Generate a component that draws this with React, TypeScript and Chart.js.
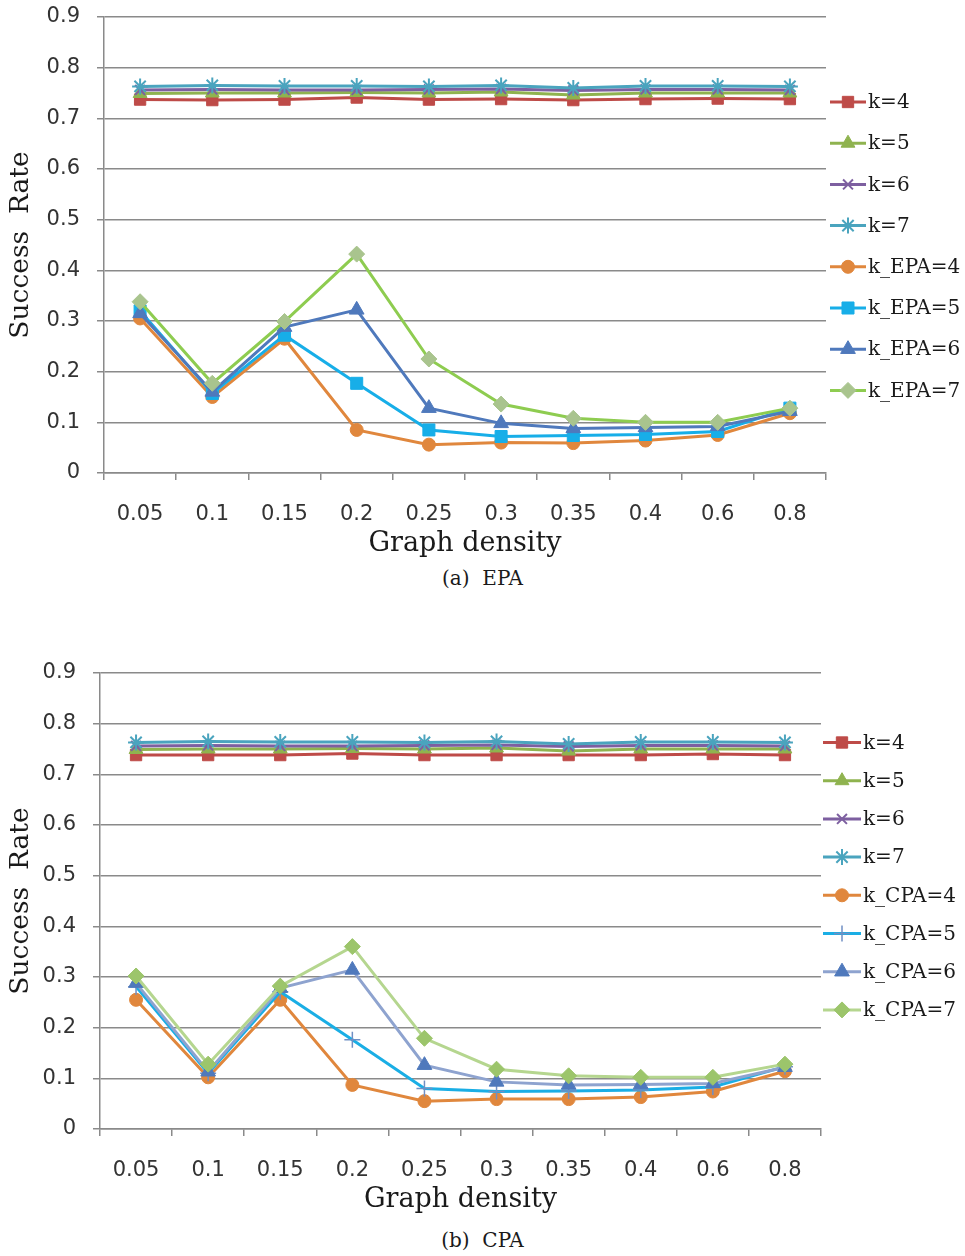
import React, { useEffect, useRef } from 'react';
import { Chart, registerables } from 'chart.js';
import { drawPoint } from 'chart.js/helpers';

Chart.register(...registerables);

// ---------------- data ----------------
const categories = ['0.05', '0.1', '0.15', '0.2', '0.25', '0.3', '0.35', '0.4', '0.6', '0.8'];
const yTickValues = [0, 0.1, 0.2, 0.3, 0.4, 0.5, 0.6, 0.7, 0.8, 0.9];

// (a) EPA
const epaK4 = [0.737, 0.736, 0.737, 0.741, 0.737, 0.738, 0.736, 0.738, 0.739, 0.738];
const epaK5 = [0.749, 0.750, 0.750, 0.751, 0.750, 0.752, 0.746, 0.750, 0.750, 0.750];
const epaK6 = [0.756, 0.757, 0.756, 0.756, 0.757, 0.758, 0.755, 0.757, 0.757, 0.756];
const epaK7 = [0.763, 0.765, 0.764, 0.764, 0.763, 0.765, 0.760, 0.764, 0.764, 0.763];
const kEpa4 = [0.305, 0.150, 0.265, 0.085, 0.056, 0.060, 0.059, 0.064, 0.075, 0.118];
const kEpa5 = [0.320, 0.157, 0.272, 0.177, 0.085, 0.072, 0.074, 0.076, 0.082, 0.128];
const kEpa6 = [0.315, 0.160, 0.288, 0.322, 0.128, 0.098, 0.088, 0.090, 0.092, 0.122];
const kEpa7 = [0.338, 0.177, 0.299, 0.432, 0.225, 0.136, 0.108, 0.100, 0.100, 0.128];

// (b) CPA
const cpaK4 = [0.738, 0.738, 0.738, 0.741, 0.738, 0.738, 0.738, 0.738, 0.740, 0.738];
const cpaK5 = [0.749, 0.750, 0.750, 0.751, 0.750, 0.752, 0.746, 0.750, 0.750, 0.750];
const cpaK6 = [0.756, 0.757, 0.756, 0.756, 0.757, 0.758, 0.755, 0.757, 0.757, 0.756];
const cpaK7 = [0.763, 0.765, 0.764, 0.764, 0.763, 0.765, 0.760, 0.764, 0.764, 0.763];
const kCpa4 = [0.255, 0.102, 0.255, 0.087, 0.055, 0.059, 0.059, 0.063, 0.074, 0.114];
const kCpa5 = [0.281, 0.110, 0.271, 0.176, 0.080, 0.074, 0.075, 0.077, 0.083, 0.123];
const kCpa6 = [0.288, 0.113, 0.278, 0.314, 0.126, 0.093, 0.087, 0.088, 0.090, 0.122];
const kCpa7 = [0.302, 0.128, 0.282, 0.360, 0.179, 0.118, 0.105, 0.102, 0.102, 0.128];

const epaLabels = ['k=4', 'k=5', 'k=6', 'k=7', 'k_EPA=4', 'k_EPA=5', 'k_EPA=6', 'k_EPA=7'];
const cpaLabels = ['k=4', 'k=5', 'k=6', 'k=7', 'k_CPA=4', 'k_CPA=5', 'k_CPA=6', 'k_CPA=7'];

// ---------------- styles ----------------
type Style = { line: string; point: string; pointBorder: string; style: string; r: number; bw: number };

const baseStyles: Style[] = [
  { line: '#BE4B48', point: '#BE4B48', pointBorder: '#BE4B48', style: 'rect', r: 8, bw: 1 },
  { line: '#8FB34F', point: '#8FB34F', pointBorder: '#8FB34F', style: 'triangle', r: 8, bw: 1 },
  { line: '#7D5FA0', point: '#7D5FA0', pointBorder: '#7D5FA0', style: 'crossRot', r: 7, bw: 2 },
  { line: '#4AA4BE', point: '#4AA4BE', pointBorder: '#4AA4BE', style: 'star', r: 8, bw: 2 },
];
const epaStyles: Style[] = [
  ...baseStyles,
  { line: '#E0873D', point: '#E0873D', pointBorder: '#E0873D', style: 'circle', r: 6.5, bw: 1 },
  { line: '#17AEE8', point: '#17AEE8', pointBorder: '#17AEE8', style: 'rect', r: 8.5, bw: 1 },
  { line: '#4F79BC', point: '#4F79BC', pointBorder: '#4F79BC', style: 'triangle', r: 8.5, bw: 1 },
  { line: '#8ECC50', point: '#A9C48E', pointBorder: '#A9C48E', style: 'rectRot', r: 8, bw: 1 },
];
const cpaStyles: Style[] = [
  ...baseStyles,
  { line: '#E0873D', point: '#E0873D', pointBorder: '#E0873D', style: 'circle', r: 6.5, bw: 1 },
  { line: '#1AAEE5', point: '#6F8FC4', pointBorder: '#6F8FC4', style: 'cross', r: 8, bw: 1.5 },
  { line: '#8EA3CF', point: '#4F79BC', pointBorder: '#4F79BC', style: 'triangle', r: 8.5, bw: 1 },
  { line: '#B5D68F', point: '#9CC56B', pointBorder: '#9CC56B', style: 'rectRot', r: 8, bw: 1 },
];

const GRID = '#8a8a8a';

const sideLegend = {
  id: 'sideLegend',
  afterDraw(chart: any, _args: any, opts: any) {
    const ctx = chart.ctx;
    ctx.save();
    chart.data.datasets.forEach((ds: any, i: number) => {
      const y = opts.y0 + i * opts.dy;
      ctx.strokeStyle = ds.borderColor;
      ctx.lineWidth = 3;
      ctx.beginPath();
      ctx.moveTo(opts.x1, y);
      ctx.lineTo(opts.x2, y);
      ctx.stroke();
      ctx.fillStyle = ds.pointBackgroundColor;
      ctx.strokeStyle = ds.pointBorderColor;
      ctx.lineWidth = ds.pointBorderWidth;
      drawPoint(ctx, { pointStyle: ds.pointStyle, radius: ds.pointRadius, rotation: 0, borderWidth: ds.pointBorderWidth } as any, (opts.x1 + opts.x2) / 2, y);
      ctx.fillStyle = '#1a1a1a';
      ctx.font = '20px "DejaVu Serif"';
      ctx.textBaseline = 'middle';
      ctx.textAlign = 'left';
      ctx.fillText(ds.label, opts.textX, y + 1);
    });
    ctx.restore();
  },
};

type PanelProps = {
  top: number;
  series: number[][];
  labels: string[];
  styles: Style[];
  left: number;
  right: number;
  legend: { x1: number; x2: number; textX: number; y0: number; dy: number };
};

function Panel({ top, series, labels, styles, left, right, legend }: PanelProps) {
  const ref = useRef<HTMLCanvasElement>(null);
  useEffect(() => {
    if (!ref.current) return;
    const datasets = series.map((d, i) => {
      const s = styles[i];
      return {
        label: labels[i],
        data: d,
        borderColor: s.line,
        backgroundColor: s.line,
        borderWidth: 3,
        pointStyle: s.style,
        pointRadius: s.r,
        pointHoverRadius: s.r,
        pointBackgroundColor: s.point,
        pointBorderColor: s.pointBorder,
        pointBorderWidth: s.bw,
        tension: 0,
        order: series.length - i,
      };
    });
    const chart = new Chart(ref.current, {
      type: 'line',
      data: { labels: categories, datasets },
      plugins: [sideLegend],
      options: {
        animation: false,
        responsive: false,
        layout: { padding: { left: 5, right: 965 - right, top: 17, bottom: 0 }, autoPadding: false },
        plugins: {
          legend: { display: false },
          tooltip: { enabled: false },
          sideLegend: legend,
        } as any,
        scales: {
          x: {
            type: 'category',
            offset: true,
            grid: { display: true, drawOnChartArea: false, drawTicks: true, tickLength: 7, color: GRID, lineWidth: 1.5, offset: true },
            border: { display: true, color: GRID, width: 1.5 },
            ticks: { padding: 22, font: { family: 'DejaVu Sans', size: 21 }, color: '#333', maxRotation: 0, autoSkip: false },
            title: { display: true, text: 'Graph density', font: { family: 'DejaVu Serif', size: 27 }, color: '#1a1a1a', padding: 0 },
            afterFit: (scale: any) => {
              scale.height = 560 - 473;
              scale.paddingLeft = 0;
              scale.paddingRight = 0;
            },
          },
          y: {
            min: 0,
            max: 0.9,
            afterBuildTicks: (scale: any) => { scale.ticks = yTickValues.map((v) => ({ value: v })); },
            grid: { color: GRID, lineWidth: 1.5, tickLength: 7, drawTicks: true },
            border: { display: true, color: GRID, width: 1.5 },
            ticks: {
              padding: 17,
              font: { family: 'DejaVu Sans', size: 21 },
              color: '#333',
              callback: (v: any) => (Number(v) === 0 ? '0' : Number(v).toFixed(1)),
            },
            title: { display: true, text: 'Success  Rate', font: { family: 'DejaVu Serif', size: 26.5 }, color: '#1a1a1a', padding: 0 },
            afterFit: (scale: any) => {
              scale.width = left - 5;
              scale.paddingTop = 0;
              scale.paddingBottom = 0;
            },
          },
        },
      } as any,
    });
    return () => chart.destroy();
  }, []);
  return (
    <canvas
      ref={ref}
      width={965}
      height={560}
      style={{ position: 'absolute', left: 0, top, width: 965, height: 560 }}
    />
  );
}

const captionStyle: React.CSSProperties = {
  position: 'absolute',
  left: 0,
  width: 965,
  textAlign: 'center',
  fontFamily: '"DejaVu Serif", serif',
  fontSize: 20,
  lineHeight: '24px',
  color: '#1a1a1a',
  whiteSpace: 'pre',
};

export default function App() {
  return (
    <div style={{ position: 'absolute', left: 0, top: 0, width: 965, height: 1256, background: '#fff', overflow: 'hidden' }}>
      <Panel
        top={0}
        series={[epaK4, epaK5, epaK6, epaK7, kEpa4, kEpa5, kEpa6, kEpa7]}
        labels={epaLabels}
        styles={epaStyles}
        left={104}
        right={826}
        legend={{ x1: 830, x2: 866, textX: 868, y0: 102, dy: 41.2 }}
      />
      <div style={{ ...captionStyle, top: 566 }}>{'(a)  EPA'}</div>
      <Panel
        top={656}
        series={[cpaK4, cpaK5, cpaK6, cpaK7, kCpa4, kCpa5, kCpa6, kCpa7]}
        labels={cpaLabels}
        styles={cpaStyles}
        left={100}
        right={821}
        legend={{ x1: 823, x2: 861, textX: 863, y0: 86.5, dy: 38.2 }}
      />
      <div style={{ ...captionStyle, top: 1228 }}>{'(b)  CPA'}</div>
    </div>
  );
}
